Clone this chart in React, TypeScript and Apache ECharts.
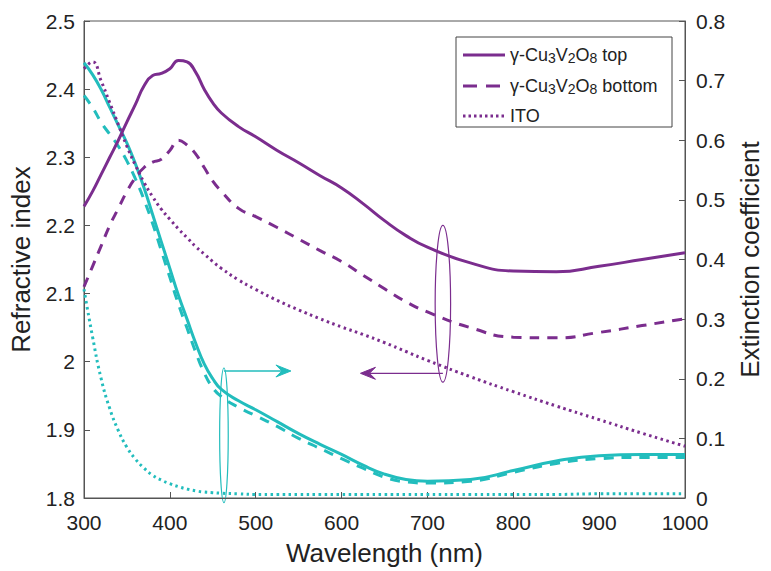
import React, { useEffect, useRef } from "react";
import * as echarts from "echarts";

// Wavelength grid (nm)
const wavelength = [300, 310, 320, 330, 340, 350, 360, 370, 380, 390, 400, 410, 420, 430, 440, 450, 460, 480, 500, 525, 550, 575, 600, 625, 650, 675, 700, 750, 800, 850, 900, 950, 1000];

// Refractive index (left axis)
const nTop = [2.228, 2.25, 2.275, 2.3, 2.325, 2.352, 2.378, 2.405, 2.42, 2.423, 2.43, 2.442, 2.44, 2.425, 2.4, 2.38, 2.365, 2.345, 2.33, 2.31, 2.292, 2.273, 2.255, 2.232, 2.207, 2.185, 2.168, 2.145, 2.133, 2.132, 2.14, 2.15, 2.16];
const nBottom = [2.11, 2.14, 2.17, 2.2, 2.225, 2.25, 2.27, 2.285, 2.293, 2.297, 2.31, 2.325, 2.318, 2.305, 2.285, 2.265, 2.25, 2.225, 2.213, 2.197, 2.18, 2.163, 2.147, 2.127, 2.107, 2.088, 2.073, 2.05, 2.036, 2.035, 2.043, 2.053, 2.063];
const nITO = [2.43, 2.44, 2.412, 2.38, 2.348, 2.316, 2.288, 2.263, 2.242, 2.224, 2.209, 2.195, 2.182, 2.169, 2.158, 2.147, 2.137, 2.12, 2.106, 2.09, 2.076, 2.063, 2.051, 2.04, 2.028, 2.015, 2.002, 1.978, 1.956, 1.935, 1.915, 1.895, 1.876];

// Extinction coefficient (right axis)
const kTop = [0.73, 0.71, 0.685, 0.655, 0.625, 0.595, 0.56, 0.52, 0.475, 0.43, 0.385, 0.34, 0.3, 0.26, 0.225, 0.2, 0.182, 0.163, 0.148, 0.128, 0.108, 0.09, 0.073, 0.055, 0.04, 0.031, 0.028, 0.031, 0.046, 0.062, 0.071, 0.073, 0.073];
const kBottom = [0.675, 0.655, 0.63, 0.61, 0.59, 0.565, 0.535, 0.5, 0.46, 0.415, 0.37, 0.325, 0.285, 0.245, 0.21, 0.185, 0.17, 0.152, 0.138, 0.12, 0.1, 0.083, 0.066, 0.05, 0.035, 0.027, 0.025, 0.028, 0.043, 0.058, 0.066, 0.068, 0.068];
const kITO = [0.35, 0.27, 0.2, 0.15, 0.113, 0.085, 0.065, 0.05, 0.038, 0.03, 0.024, 0.019, 0.015, 0.012, 0.01, 0.009, 0.008, 0.007, 0.006, 0.006, 0.006, 0.006, 0.006, 0.006, 0.006, 0.006, 0.006, 0.006, 0.006, 0.006, 0.007, 0.007, 0.007];

// Annotation markers (data coordinates)
const nMarker = { wl: 718, top: 2.2, bottom: 1.97, halfWidth: 9, arrowY: 1.983, arrowTip: 622 };
const kMarker = { wl: 463, top: 0.218, bottom: -0.008, halfWidth: 5, arrowY: 0.213, arrowTip: 541 };

// Legend entries
const legendItems = [
  { label: "{a|γ-Cu}{s|3}{a|V}{s|2}{a|O}{s|8}{a| top}", dash: null as number[] | null },
  { label: "{a|γ-Cu}{s|3}{a|V}{s|2}{a|O}{s|8}{a| bottom}", dash: [14, 9] },
  { label: "{a|ITO}", dash: [2.5, 3] },
];

const PURPLE = "#7B2D8E";
const TEAL = "#22BDBD";
const FONT = "Liberation Sans";

const zip = (ys: number[]) => wavelength.map((x, i) => [x, ys[i]]);

export default function App() {
  const ref = useRef<HTMLDivElement>(null);
  useEffect(() => {
    if (!ref.current) return;
    const chart = echarts.init(ref.current, undefined, { renderer: "svg" });
    const axisColor = "#555";
    const labelColor = "#222";
    const line = (name: string, data: number[], color: string, type: any, yAxisIndex: number) => ({
      name,
      type: "line",
      data: zip(data),
      yAxisIndex,
      showSymbol: false,
      symbol: "none",
      smooth: 0.5,
      color,
      lineStyle: { color, width: 3, type, cap: "butt" },
    });
    const axisCommon = {
      axisLine: { show: true, lineStyle: { color: axisColor } },
      axisTick: { show: true, inside: true, length: 6, lineStyle: { color: axisColor } },
      splitLine: { show: false },
      nameTextStyle: { fontSize: 26, color: labelColor, fontFamily: FONT },
    };
    chart.setOption({
      animation: false,
      backgroundColor: "#fff",
      textStyle: { fontFamily: FONT },
      grid: { left: 81, right: 77, top: 21, bottom: 66, show: true, borderColor: axisColor, borderWidth: 1, backgroundColor: "transparent" },
      xAxis: {
        type: "value",
        min: 300,
        max: 1000,
        interval: 100,
        name: "Wavelength (nm)",
        nameLocation: "middle",
        nameGap: 42,
        ...axisCommon,
        axisLabel: { fontSize: 21, color: labelColor, margin: 14, fontFamily: FONT, formatter: (v: number) => String(v) },
      },
      yAxis: [
        {
          type: "value",
          position: "left",
          min: 1.8,
          max: 2.5,
          interval: 0.1,
          name: "Refractive index",
          nameLocation: "middle",
          nameGap: 50,
          nameRotate: 90,
          ...axisCommon,
          axisLabel: { fontSize: 21, color: labelColor, margin: 9, fontFamily: FONT },
        },
        {
          type: "value",
          position: "right",
          min: 0,
          max: 0.8,
          interval: 0.1,
          name: "Extinction coefficient",
          nameLocation: "middle",
          nameGap: 52,
          nameRotate: 90,
          ...axisCommon,
          axisLabel: { fontSize: 21, color: labelColor, margin: 11, fontFamily: FONT },
        },
      ],
      series: [
        line("k ITO", kITO, TEAL, [2.5, 3.5], 1),
        line("k bottom", kBottom, TEAL, [10, 8], 1),
        line("k top", kTop, TEAL, "solid", 1),
        line("n ITO", nITO, PURPLE, [2.5, 3.5], 0),
        line("n bottom", nBottom, PURPLE, [10, 8], 0),
        line("n top", nTop, PURPLE, "solid", 0),
      ],
    });

    const px = (yIdx: number, x: number, y: number) =>
      chart.convertToPixel({ xAxisIndex: 0, yAxisIndex: yIdx }, [x, y]) as number[];

    const marker = (m: typeof nMarker, yIdx: number, color: string, dir: number) => {
      const t = px(yIdx, m.wl, m.top);
      const b = px(yIdx, m.wl, m.bottom);
      const l = px(yIdx, m.wl - m.halfWidth, m.top);
      const a0 = px(yIdx, m.wl, m.arrowY);
      const a1 = px(yIdx, m.arrowTip, m.arrowY);
      const L = 15, W = 12;
      const tx = a1[0], ty = a1[1];
      return [
        {
          type: "ellipse",
          shape: { cx: t[0], cy: (t[1] + b[1]) / 2, rx: Math.abs(t[0] - l[0]), ry: Math.abs(b[1] - t[1]) / 2 },
          style: { fill: "none", stroke: color, lineWidth: 1.2 },
          silent: true,
        },
        {
          type: "line",
          shape: { x1: a0[0], y1: a0[1], x2: tx - dir * L * 0.6, y2: ty },
          style: { stroke: color, lineWidth: 1.3 },
          silent: true,
        },
        {
          type: "polygon",
          shape: {
            points: [
              [tx, ty],
              [tx - dir * L, ty - W / 2],
              [tx - dir * L * 0.6, ty],
              [tx - dir * L, ty + W / 2],
            ],
          },
          style: { fill: color, stroke: color, lineWidth: 1 },
          silent: true,
        },
      ];
    };

    // Legend box (drawn manually)
    const lgX = 456, lgY = 37, lgW = 216, lgH = 90;
    const rowY = [55, 86, 116];
    const legendGraphics: any[] = [
      { type: "rect", shape: { x: lgX, y: lgY, width: lgW, height: lgH }, style: { fill: "#fff", stroke: "#444", lineWidth: 1 }, z: 10 },
    ];
    legendItems.forEach((it, i) => {
      legendGraphics.push({
        type: "line",
        shape: { x1: 463, y1: rowY[i], x2: 505, y2: rowY[i] },
        style: { stroke: PURPLE, lineWidth: 3, lineDash: it.dash || undefined, lineCap: "butt" },
        z: 11,
      });
      legendGraphics.push({
        type: "text",
        x: 510,
        y: rowY[i],
        style: {
          text: it.label,
          verticalAlign: "middle",
          align: "left",
          rich: {
            a: { fontSize: 18, lineHeight: 19, verticalAlign: "top", fill: "#222", fontFamily: FONT },
            s: { fontSize: 14, lineHeight: 14, verticalAlign: "bottom", padding: [9, 0, 0, 0], fill: "#222", fontFamily: FONT },
          },
        },
        z: 11,
      });
    });

    chart.setOption({
      graphic: [...marker(nMarker, 0, PURPLE, -1), ...marker(kMarker, 1, TEAL, 1), ...legendGraphics],
    });

    return () => chart.dispose();
  }, []);
  return <div ref={ref} style={{ position: "fixed", left: 0, top: 0, width: 771, height: 571 }} />;
}
